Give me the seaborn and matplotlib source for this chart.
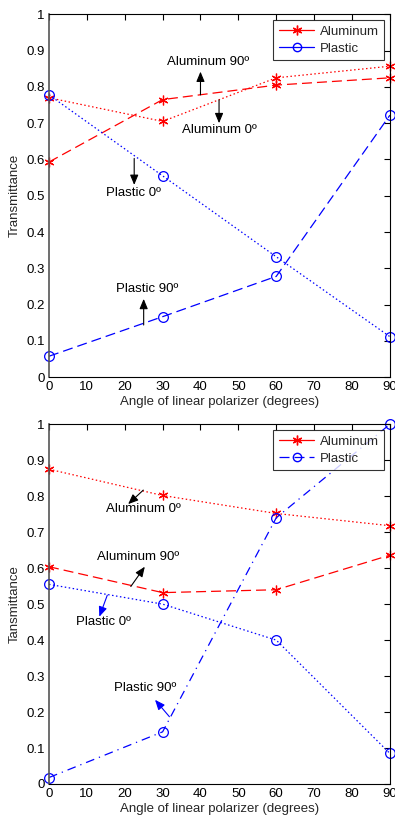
import matplotlib
matplotlib.use("Agg")
import matplotlib.pyplot as plt
from matplotlib.lines import Line2D
import seaborn as sns

angles = [0, 30, 60, 90]

# top panel
al0_top = [0.770, 0.705, 0.825, 0.857]
al90_top = [0.593, 0.765, 0.805, 0.825]
pl0_top = [0.778, 0.555, 0.332, 0.112]
pl90_top = [0.058, 0.167, 0.278, 0.722]

# bottom panel
al0_bot = [0.875, 0.802, 0.752, 0.718]
al90_bot = [0.604, 0.532, 0.540, 0.636]
pl0_bot = [0.555, 0.500, 0.400, 0.085]
pl90_bot = [0.018, 0.145, 0.740, 1.000]

ylabels = ["Transmittance", "Tansmittance"]
xlabel = "Angle of linear polarizer (degrees)"
xticks = list(range(0, 91, 10))
yticks = [round(0.1 * i, 1) for i in range(11)]
ytick_labels = ["0"] + [f"{v:g}" for v in yticks[1:-1]] + ["1"]

sns.set_style("white")
plt.rcParams["font.family"] = ["Liberation Sans", "DejaVu Sans"]
plt.rcParams["font.size"] = 9.5

RED = (1, 0, 0)
BLUE = (0, 0, 1)
STAR = (6, 2, 0)
DOT = (0, (1.2, 2))
DASH = (0, (8, 4))
DASHDOT = (0, (7, 4, 1, 4))

fig = plt.figure(figsize=(3.95, 8.17), dpi=100)
ax1 = fig.add_axes([0.124, 0.5382, 0.863, 0.4443])
ax2 = fig.add_axes([0.124, 0.0404, 0.863, 0.4403])


def draw_series(ax, y, color, ls, marker):
    kw = dict(color=color, linestyle=ls, marker=marker, lw=0.9, markersize=7,
              clip_on=False)
    if marker == "o":
        kw.update(markerfacecolor="none", markeredgecolor=color, markeredgewidth=0.9)
    else:
        kw.update(markeredgecolor=color, markeredgewidth=0.9)
    sns.lineplot(x=angles, y=y, ax=ax, legend=False, **kw)


draw_series(ax1, al0_top, RED, DOT, STAR)
draw_series(ax1, al90_top, RED, DASH, STAR)
draw_series(ax1, pl0_top, BLUE, DOT, "o")
draw_series(ax1, pl90_top, BLUE, DASH, "o")

draw_series(ax2, al0_bot, RED, DOT, STAR)
draw_series(ax2, al90_bot, RED, DASH, STAR)
draw_series(ax2, pl0_bot, BLUE, DOT, "o")
draw_series(ax2, pl90_bot, BLUE, DASHDOT, "o")


def label(ax, text, txy, tail, head, color="black"):
    ax.text(txy[0], txy[1], text, ha="center", va="center", fontsize=9.5, color="black")
    ax.annotate("", xy=head, xytext=tail,
                arrowprops=dict(arrowstyle="-|>,head_width=0.25,head_length=0.6",
                                color=color, lw=0.8,
                                mutation_scale=10, shrinkA=0, shrinkB=0))


label(ax1, "Aluminum 90º", (42, 0.868), (40, 0.778), (40, 0.842))
label(ax1, "Aluminum 0º", (45, 0.681), (44.9, 0.764), (44.9, 0.700))
label(ax1, "Plastic 0º", (22.2, 0.507), (22.5, 0.603), (22.5, 0.530))
label(ax1, "Plastic 90º", (26, 0.242), (25, 0.144), (25, 0.216))

label(ax2, "Aluminum 0º", (24.8, 0.764), (24.9, 0.817), (20.9, 0.778))
label(ax2, "Aluminum 90º", (23.6, 0.630), (21.6, 0.549), (25.3, 0.604))
label(ax2, "Plastic 0º", (14.3, 0.451), (15.4, 0.525), (13.3, 0.465), BLUE)
label(ax2, "Plastic 90º", (25.5, 0.268), (31.8, 0.187), (28.0, 0.234), BLUE)

legends = [
    [Line2D([], [], color=RED, marker=STAR, lw=0.9, markersize=7),
     Line2D([], [], color=BLUE, marker="o", lw=0.9, markersize=6, markerfacecolor="none")],
    [Line2D([], [], color=RED, marker=STAR, lw=0.9, markersize=7),
     Line2D([], [], color=BLUE, marker="o", lw=0.9, markersize=6, markerfacecolor="none",
            linestyle=DASH)],
]

for ax, yl, handles in zip([ax1, ax2], ylabels, legends):
    ax.set_xlim(0, 90)
    ax.set_ylim(0, 1)
    ax.set_xticks(xticks)
    ax.set_yticks(yticks)
    ax.set_yticklabels(ytick_labels)
    ax.set_xlabel(xlabel, fontsize=9.5, labelpad=2)
    ax.set_ylabel(yl, fontsize=9.5, labelpad=4)
    ax.tick_params(direction="in", length=4, width=0.8, top=True, right=True,
                   labelsize=9.5, pad=3, colors="black")
    for s in ax.spines.values():
        s.set_visible(True)
        s.set_color("black")
        s.set_linewidth(0.8)
    ax.spines["left"].set_color("#555555")
    ax.spines["left"].set_linewidth(1.2)
    leg = ax.legend(handles, ["Aluminum", "Plastic"], loc="upper right",
                    fontsize=9.5, frameon=True, fancybox=False, handlelength=2.7,
                    borderaxespad=0.45, labelspacing=0.35, handletextpad=0.4)
    leg.get_frame().set_edgecolor("black")
    leg.get_frame().set_linewidth(0.8)
    leg.set_zorder(5)

fig.savefig("out.png", dpi=100)
